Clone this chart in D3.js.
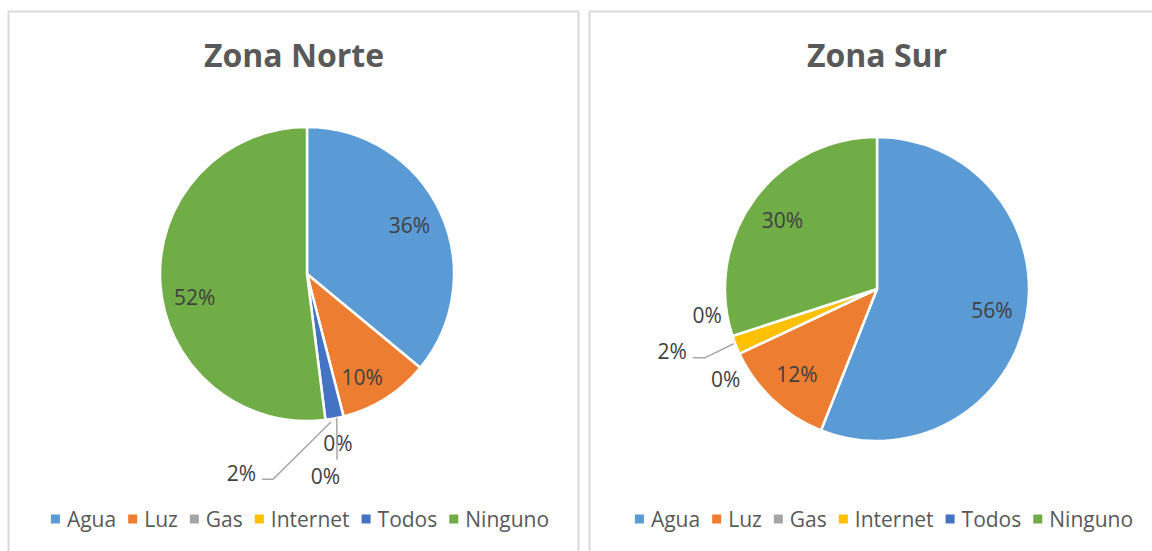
<!DOCTYPE html>
<html>
<head>
<meta charset="utf-8">
<script src="https://cdn.jsdelivr.net/npm/d3@7"></script>
<style>
  body { margin: 0; background: #fff; }
  svg text { font-family: "Open Sans", "DejaVu Sans", sans-serif; }
</style>
</head>
<body>
<div id="chart"></div>
<script>
// categories and values (percent)
var categories = ["Agua", "Luz", "Gas", "Internet", "Todos", "Ninguno"];
var norteValues = [36, 10, 0, 0, 2, 52];
var surValues = [56, 12, 0, 2, 0, 30];
var chartTitles = ["Zona Norte", "Zona Sur"];
var colors = ["#5B9BD5", "#ED7D31", "#A5A5A5", "#FFC000", "#4472C4", "#70AD47"];

// label placement (angle in degrees clockwise from top, distance as fraction of radius)
var norteLabelSpots = {
    "Luz": {a: 152, f: 0.80},
    "Ninguno": {a: 258.4, f: 0.78},
    "Gas": {a: 169.6, f: 1.17},
    "Internet": {a: 174.8, f: 1.38, leader: [[168.3, 1.0], [170.8, 1.28]]},
    "Todos": {leader: [[170.8, 1.02], [189.4, 1.415]], tail: 11, side: "left"}
};
var surLabelSpots = {
    "Gas": {a: 239.1, f: 1.16},
    "Todos": {a: 261.1, f: 1.13},
    "Internet": {leader: [[249.1, 1.01], [248.2, 1.22]], tail: 12, side: "left"}
};

var width = 1152, height = 551;

var svg = d3.select("#chart").append("svg")
    .attr("width", width)
    .attr("height", height);

// panel frames
var panels = [
    {x: 8.5, w: 570, cx: 307, cy: 274, r: 147, titleX: 294, legendX: 300,
        values: norteValues, title: chartTitles[0], spots: norteLabelSpots},
    {x: 589.5, w: 600, cx: 877, cy: 289, r: 152, titleX: 877, legendX: 884,
        values: surValues, title: chartTitles[1], spots: surLabelSpots}
];

var pie = d3.pie().sort(null).value(function(d){ return d.value; });

function polar(p, angleDeg, f){
    var t = angleDeg * Math.PI / 180;
    return [p.cx + Math.sin(t) * p.r * f, p.cy - Math.cos(t) * p.r * f];
}

panels.forEach(function(p){
    var g = svg.append("g");

    g.append("rect")
        .attr("x", p.x)
        .attr("y", 11.5)
        .attr("width", p.w)
        .attr("height", 600)
        .attr("fill", "#fff")
        .attr("stroke", "#d9d9d9")
        .attr("stroke-width", 2);

    g.append("text")
        .attr("x", p.titleX)
        .attr("y", 67)
        .attr("text-anchor", "middle")
        .attr("font-size", 32)
        .attr("font-weight", "bold")
        .attr("fill", "#595959")
        .text(p.title);

    var data = categories.map(function(c, i){
        return {cat: c, value: p.values[i], color: colors[i]};
    });
    var arcs = pie(data);

    var arc = d3.arc().innerRadius(0).outerRadius(p.r);

    var pieG = g.append("g")
        .attr("transform", "translate(" + p.cx + "," + p.cy + ")");

    pieG.selectAll(".slice")
        .data(arcs.filter(function(d){ return d.data.value > 0; }))
        .enter().append("path")
        .attr("class", "slice")
        .attr("d", arc)
        .attr("fill", function(d){ return d.data.color; })
        .attr("stroke", "#fff")
        .attr("stroke-width", 2.5)
        .attr("stroke-linejoin", "round");

    // data labels
    arcs.forEach(function(d){
        var spot = p.spots[d.data.cat] || {};
        var label = d.data.value + "%";
        var pos, anchor = "middle", yShift = 0;

        if (spot.leader) {
            var pts = spot.leader.map(function(l){ return polar(p, l[0], l[1]); });
            var last = pts[pts.length - 1];
            if (spot.tail) pts.push([last[0] - spot.tail, last[1]]);
            g.append("path")
                .attr("d", d3.line()(pts))
                .attr("fill", "none")
                .attr("stroke", "#a6a6a6")
                .attr("stroke-width", 1.5);
        }

        if (spot.side === "left") {
            var elbow = polar(p, spot.leader[1][0], spot.leader[1][1]);
            pos = [elbow[0] - spot.tail - 6, elbow[1] - 6];
            anchor = "end";
        } else if (spot.a !== undefined) {
            pos = polar(p, spot.a, spot.f);
        } else {
            var mid = (d.startAngle + d.endAngle) / 2 * 180 / Math.PI;
            pos = polar(p, mid, 0.77);
        }

        g.append("text")
            .attr("x", pos[0])
            .attr("y", pos[1] + yShift)
            .attr("dy", "0.36em")
            .attr("text-anchor", anchor)
            .attr("font-size", 21)
            .attr("fill", "#404040")
            .text(label);
    });

    // legend
    var legend = g.append("g");
    var x = 0;
    categories.forEach(function(c, i){
        legend.append("rect")
            .attr("x", x)
            .attr("y", -4.5)
            .attr("width", 9)
            .attr("height", 9)
            .attr("fill", colors[i]);
        var t = legend.append("text")
            .attr("x", x + 16)
            .attr("y", 0)
            .attr("dy", "0.36em")
            .attr("font-size", 21)
            .attr("fill", "#595959")
            .text(c);
        x += 16 + t.node().getComputedTextLength() + 12;
    });
    var legendW = x - 12;
    legend.attr("transform", "translate(" + (p.legendX - legendW / 2) + ",519)");
});
</script>
</body>
</html>
